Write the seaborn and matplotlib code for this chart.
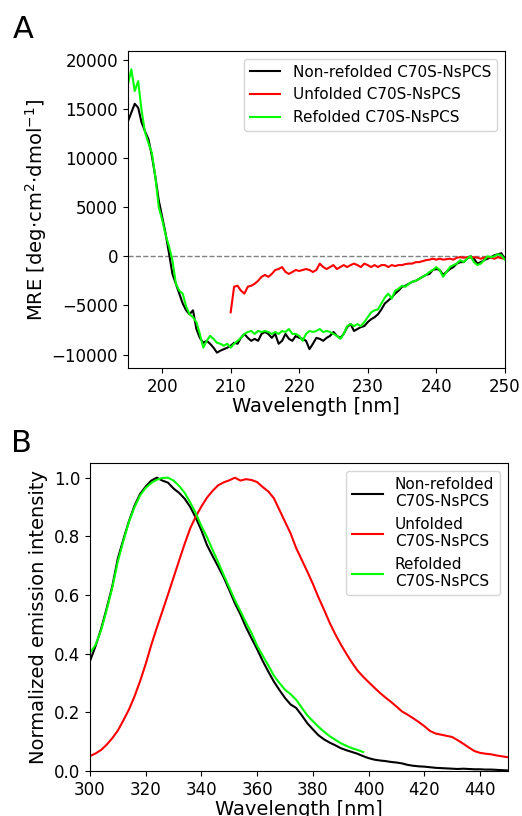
import numpy as np
import pandas as pd
import seaborn as sns
import matplotlib
matplotlib.use("Agg")
import matplotlib.pyplot as plt

# ---- panel A: CD spectra (0.5 nm grid) ----
cd_wl = np.arange(195, 250.01, 0.5)
cd_red_wl = np.arange(210, 250.01, 0.5)

cd_nonrefolded = [
    13700, 14600, 15500, 15100, 13600, 12700, 11900, 10200, 8100, 5700,
    4000, 2300, 300, -1800, -2800, -3800, -4800, -5500, -5900, -5500,
    -7400, -8300, -8800, -8600, -8900, -9300, -9800, -9600, -9450, -9300,
    -9100, -8800, -8900, -8300, -7900, -8300, -8600, -8400, -8600, -7900,
    -7700, -7900, -8300, -7900, -8900, -8600, -7900, -8400, -8600, -8100,
    -8300, -8400, -8600, -9450, -8900, -8300, -8400, -8600, -8300, -8100,
    -7700, -8100, -8300, -7900, -7200, -6900, -7600, -7400, -7200, -7100,
    -6700, -6400, -6200, -5900, -5400, -4800, -4500, -4200, -3800, -3500,
    -3100, -3000, -2800, -2600, -2500, -2300, -2100, -1900, -1800, -1400,
    -1300, -1400, -1900, -1600, -1300, -1100, -750, -600, -600, -250,
    0, -250, -750, -600, -400, -250, -100, 100, 200, 300,
    -250,
]
cd_refolded = [
    17500, 19000, 16800, 17800, 14800, 12600, 11500, 10500, 8100, 5000,
    3700, 2200, 1000, -400, -2800, -3500, -3800, -5100, -5900, -6200,
    -6700, -7900, -9300, -8600, -8100, -8400, -8800, -8900, -9100, -8900,
    -9300, -8900, -8600, -8300, -7900, -7700, -7600, -7900, -7600, -7700,
    -7600, -7700, -7900, -7700, -7900, -7600, -7700, -7400, -7900, -7900,
    -8100, -8600, -7900, -7600, -7700, -7600, -7400, -7700, -7600, -7700,
    -7900, -8100, -8400, -7900, -7100, -6900, -7100, -6900, -7100, -6700,
    -6200, -5700, -5500, -5400, -4800, -4200, -3800, -4300, -3500, -3300,
    -3000, -3100, -2800, -2600, -2500, -2300, -2100, -1900, -1600, -1400,
    -1100, -1400, -2100, -1600, -1100, -900, -750, -400, -600, -250,
    0, -600, -900, -750, -400, 0, -100, 0, 200, 100,
    -350,
]
cd_unfolded = [
    -5700, -3100, -3000, -3500, -3800, -3100, -3000, -2800, -2500, -2100,
    -1900, -2100, -1800, -1400, -1300, -1100, -1600, -1800, -1600, -1400,
    -1500, -1400, -1300, -1400, -1600, -1400, -750, -1100, -1300, -1100,
    -900, -1300, -1100, -900, -1100, -900, -750, -900, -1100, -750,
    -900, -1100, -900, -1100, -900, -900, -1100, -900, -1000, -900,
    -900, -800, -750, -750, -600, -600, -500, -400, -350, -250,
    -350, -250, -350, -300, -250, -350, -150, -100, -150, -100,
    -150, -100, -150, -250, -150, -100, -150, -250, -100, -200,
    -250,
]

# ---- panel B: fluorescence emission (2 nm grid) ----
fl_wl = np.arange(300, 450.01, 2)
fl_green_wl = np.arange(300, 398.01, 2)

fl_nonrefolded = [
    0.375, 0.426, 0.485, 0.555, 0.63, 0.725, 0.79, 0.852, 0.905, 0.945,
    0.97, 0.99, 1.0, 0.99, 0.983, 0.963, 0.948, 0.928, 0.9, 0.863,
    0.82, 0.77, 0.733, 0.697, 0.66, 0.617, 0.572, 0.534, 0.49, 0.452,
    0.415, 0.375, 0.339, 0.305, 0.276, 0.249, 0.227, 0.215, 0.19, 0.163,
    0.142, 0.122, 0.108, 0.097, 0.088, 0.078, 0.071, 0.065, 0.059, 0.051,
    0.044, 0.039, 0.036, 0.034, 0.031, 0.029, 0.026, 0.021, 0.018, 0.016,
    0.015, 0.013, 0.011, 0.010, 0.009, 0.008, 0.007, 0.008, 0.007, 0.006,
    0.006, 0.005, 0.005, 0.004, 0.003, 0.002,
]
fl_unfolded = [
    0.051, 0.06, 0.072, 0.09, 0.112, 0.138, 0.173, 0.21, 0.255, 0.307,
    0.365, 0.43, 0.489, 0.545, 0.602, 0.66, 0.718, 0.775, 0.828, 0.868,
    0.902, 0.932, 0.955, 0.974, 0.984, 0.991, 1.0, 0.99, 0.995, 0.992,
    0.985, 0.968, 0.953, 0.93, 0.89, 0.85, 0.81, 0.76, 0.72, 0.68,
    0.638, 0.592, 0.55, 0.506, 0.467, 0.432, 0.4, 0.37, 0.343, 0.322,
    0.303, 0.285, 0.267, 0.251, 0.236, 0.22, 0.203, 0.192, 0.18, 0.167,
    0.153, 0.137, 0.128, 0.124, 0.12, 0.116, 0.105, 0.093, 0.08, 0.068,
    0.062, 0.059, 0.057, 0.053, 0.05, 0.047,
]
fl_refolded = [
    0.403, 0.43, 0.48, 0.55, 0.625, 0.715, 0.785, 0.85, 0.9, 0.94,
    0.965, 0.982, 0.993, 0.999, 1.0, 0.99, 0.972, 0.948, 0.915, 0.878,
    0.835, 0.797, 0.754, 0.712, 0.668, 0.626, 0.583, 0.545, 0.506, 0.47,
    0.427, 0.393, 0.36, 0.325, 0.30, 0.277, 0.262, 0.243, 0.216, 0.19,
    0.17, 0.151, 0.134, 0.119, 0.107, 0.095, 0.086, 0.078, 0.072, 0.065,
]

labels_a = ["Non-refolded C70S-NsPCS", "Unfolded C70S-NsPCS", "Refolded C70S-NsPCS"]
labels_b = ["Non-refolded\nC70S-NsPCS", "Unfolded\nC70S-NsPCS", "Refolded\nC70S-NsPCS"]
colors = ["black", "red", "lime"]

plt.rcParams["font.family"] = ["DejaVu Sans"]
plt.rcParams["font.size"] = 12

fig = plt.figure(figsize=(5.22, 8.16), dpi=100)
ax1 = fig.add_axes([0.245, 0.549, 0.722, 0.3885])
ax2 = fig.add_axes([0.1724, 0.0551, 0.8006, 0.3775])

# panel A
ax1.axhline(0, color="gray", ls="--", lw=1)
series_a = [(cd_wl, cd_nonrefolded), (cd_red_wl, cd_unfolded), (cd_wl, cd_refolded)]
for (x, y), lab, c in zip(series_a, labels_a, colors):
    sns.lineplot(x=x, y=y, color=c, label=lab, lw=1.5, estimator=None, ax=ax1)
ax1.set_xlim(195, 250)
ax1.set_ylim(-11365, 20865)
ax1.set_xlabel("Wavelength [nm]", fontsize=14, labelpad=1)
ax1.set_ylabel(r"MRE [deg$\cdot$cm$^2$$\cdot$dmol$^{-1}$]", fontsize=14, labelpad=2)
ax1.tick_params(labelsize=12)
ax1.legend(loc="upper right", fontsize=11)

# panel B
series_b = [(fl_wl, fl_nonrefolded), (fl_wl, fl_unfolded), (fl_green_wl, fl_refolded)]
for (x, y), lab, c in zip(series_b, labels_b, colors):
    sns.lineplot(x=x, y=y, color=c, label=lab, lw=1.5, estimator=None, ax=ax2)
ax2.set_xlim(300, 450)
ax2.set_ylim(0, 1.05)
ax2.set_xlabel("Wavelength [nm]", fontsize=14, labelpad=1)
ax2.set_ylabel("Normalized emission intensity", fontsize=14, labelpad=4)
ax2.tick_params(labelsize=12)
ax2.legend(loc="upper right", fontsize=11)

fig.text(0.024, 0.953, "A", fontsize=22)
fig.text(0.021, 0.446, "B", fontsize=22)

fig.savefig("out.png", dpi=100)
